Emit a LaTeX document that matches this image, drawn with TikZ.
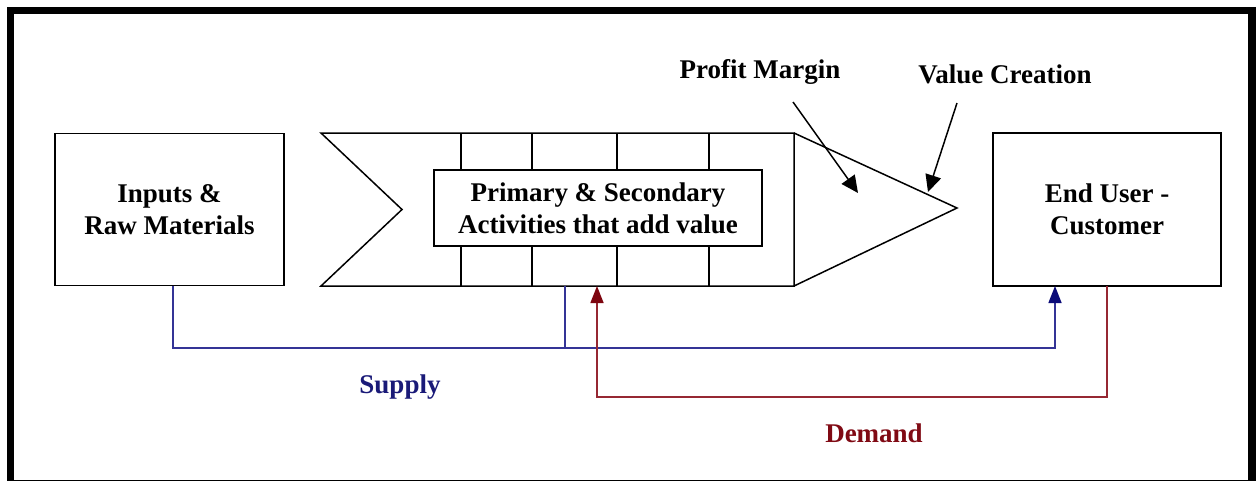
\documentclass[tikz,border=0pt]{standalone}
\usepackage{fontspec}
\setmainfont{Liberation Serif}
\usetikzlibrary{arrows.meta}
\definecolor{supplyline}{RGB}{52,52,150}
\definecolor{supplytip}{RGB}{10,10,120}
\definecolor{supplytext}{RGB}{26,26,120}
\definecolor{demandline}{RGB}{150,40,50}
\definecolor{demandtip}{RGB}{125,5,15}
\definecolor{demandtext}{RGB}{128,10,20}
\begin{document}
\begin{tikzpicture}[x=1pt,y=-1pt,
  line join=miter,
  boxed/.style={draw, line width=1.5pt, outer sep=0pt, inner sep=0pt, align=center,
    font=\fontsize{27}{32}\selectfont\bfseries},
  label/.style={inner sep=0pt, anchor=base, font=\fontsize{27}{32}\selectfont\bfseries},
  outline/.style={draw, line width=1.5pt},
  pointer/.style={line width=1.5pt, -{Triangle[length=17pt,width=16pt]}},
  supply/.style={draw=supplyline, line width=1.5pt},
  demand/.style={draw=demandline, line width=1.5pt}]
\useasboundingbox (0,0) rectangle (1256,480);
\fill[white] (0,0) rectangle (1256,480);
% outer frame
\draw[line width=7.5pt] (10.5,10.5) rectangle (1252,484);

% left and right boxes
\node[boxed, minimum width=229pt, minimum height=152pt] (inputs) at (169.5,209.5)
  {Inputs \&\\Raw Materials};
\node[boxed, minimum width=228pt, minimum height=153pt] (user) at (1107,209.5)
  {End User -\\Customer};

% chevron body with its activity columns
\coordinate (cTL) at (321,133);
\coordinate (cBL) at (321,286);
\coordinate (cN) at (402,209.5);
\coordinate (cTR) at (794,133);
\coordinate (cBR) at (794,286);
\draw[outline] (cTR) -- (cTL) -- (cN) -- (cBL) -- (cBR) -- cycle;
\foreach \x in {461,532,617,709}
  \draw[line width=1.5pt] (\x,133) -- (\x,286);

% margin triangle
\coordinate (tip) at (957,208);
\draw[outline] (cTR) -- (tip) -- (cBR);

% activities box
\node[boxed, fill=white, minimum width=328pt, minimum height=76pt] (act) at (598,208)
  {Primary \& Secondary\\Activities that add value};

% callouts
\node[label] (pm) at (760,78) {Profit Margin};
\node[label] (vc) at (1005,83) {Value Creation};
\coordinate (pmS) at (793,102);
\coordinate (pmE) at (858,193);
\coordinate (vcS) at (957,103);
\coordinate (vcE) at (928,192);
\draw[pointer] (pmS) -- (pmE);
\draw[pointer] (vcS) -- (vcE);

% supply flow
\coordinate (sx1) at (173,348);
\coordinate (sx2) at (1055,348);
\coordinate (sBranch) at (565,286);
\draw[supply, -{Triangle[length=17pt,width=13pt,color=supplytip]}]
  (inputs.south -| sx1) -- (sx1) -- (sx2) -- (user.south -| sx2);
\draw[supply] (sBranch) -- (sBranch |- sx1);
\node[label, text=supplytext] (supplylbl) at (400,393) {Supply};

% demand flow
\coordinate (dx1) at (1107,397);
\coordinate (dx2) at (597,397);
\coordinate (dEnd) at (597,286);
\draw[demand, -{Triangle[length=17pt,width=13pt,color=demandtip]}]
  (user.south -| dx1) -- (dx1) -- (dx2) -- (dEnd);
\node[label, text=demandtext] (demandlbl) at (874,442) {Demand};
\end{tikzpicture}
\end{document}
